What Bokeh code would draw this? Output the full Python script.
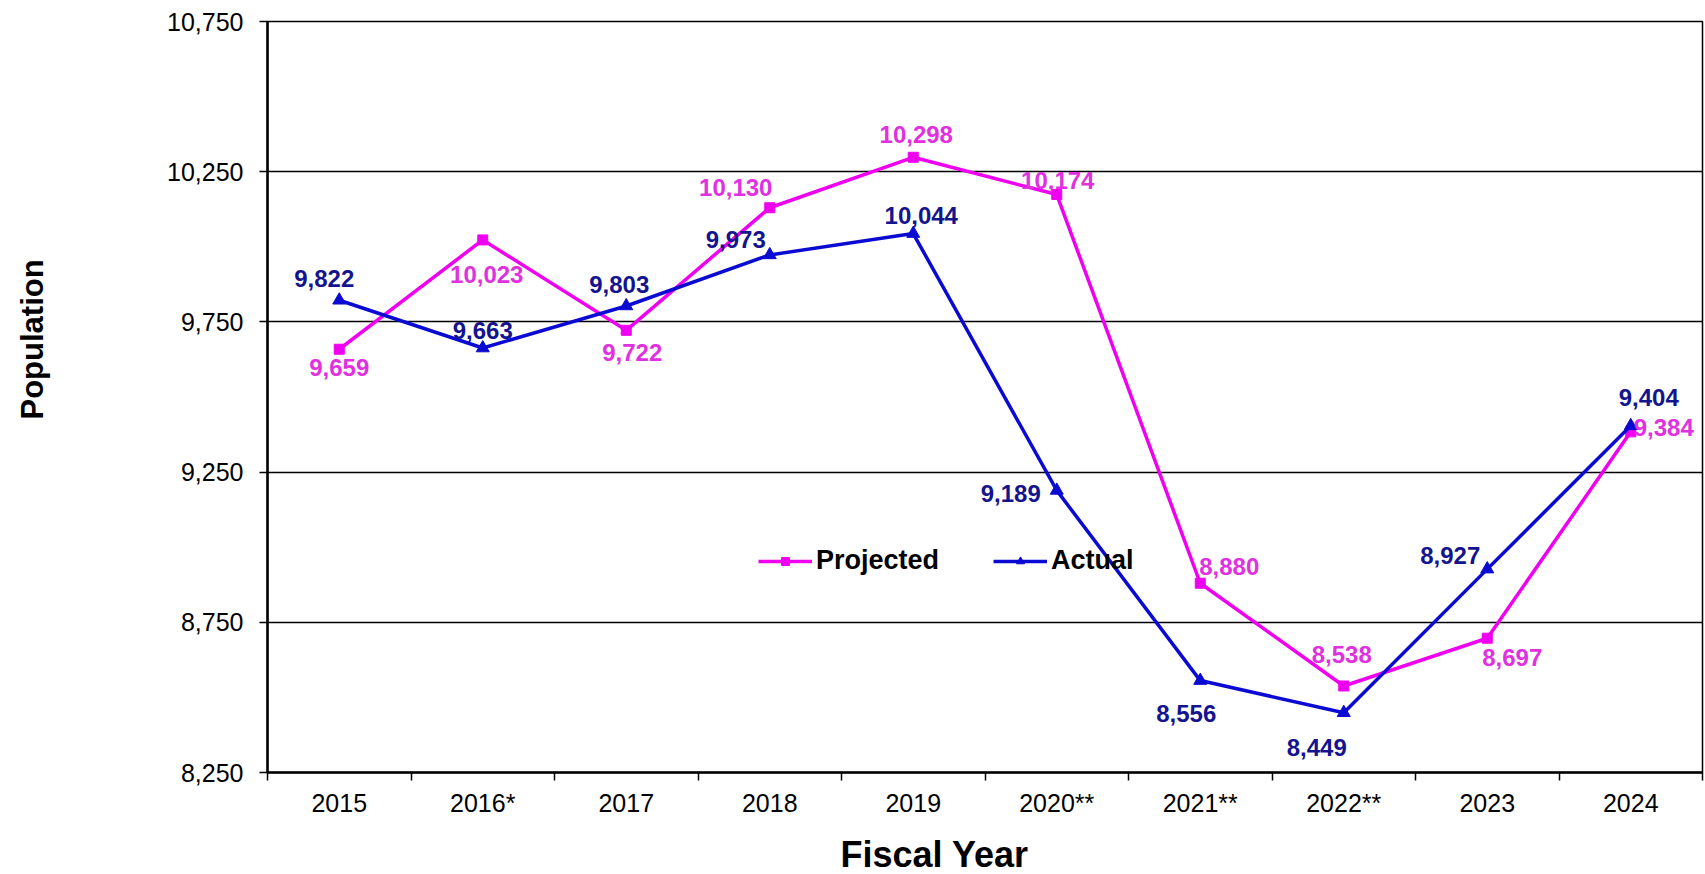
from bokeh.plotting import figure
from bokeh.models import (Range1d, FixedTicker, Title, Legend, LegendItem,
                          ColumnDataSource, NumeralTickFormatter)
from bokeh.core.properties import value
from bokeh.embed import file_html
from bokeh.resources import INLINE

# ---------------- data ----------------
years = ["2015", "2016*", "2017", "2018", "2019", "2020**", "2021**", "2022**", "2023", "2024"]
projected = [9659, 10023, 9722, 10130, 10298, 10174, 8880, 8538, 8697, 9384]
actual = [9822, 9663, 9803, 9973, 10044, 9189, 8556, 8449, 8927, 9404]
y_ticks = [8250, 8750, 9250, 9750, 10250, 10750]

# label placement (screen pixel offsets, right / down)
proj_dx = [0, 4, 6, -34, 3, 1, 29, -2, 25, 33]
proj_dy = [18, 35, 22, -20, -23, -14, -17, -31, 19, -4]
act_dx = [-15, 0, -7, -34, 8, -46, -14, -27, -37, 18]
act_dy = [-22, -18, -21, -15, -18, 3, 33, 35, -14, -28]

MAG_LINE = "#F000F0"
MAG_TEXT = "#E030E0"
BLUE_LINE = "#0A0AD2"
BLUE_TEXT = "#14148F"
FONT = "Liberation Sans"

xpos = [i + 0.5 for i in range(len(years))]

p = figure(width=1705, height=874, output_backend="svg", toolbar_location=None,
           x_range=Range1d(0, len(years)), y_range=Range1d(y_ticks[0], y_ticks[-1]),
           min_border_left=267, min_border_right=3, min_border_top=21, min_border_bottom=101)
p.background_fill_color = "white"
p.border_fill_color = "white"
p.outline_line_color = "black"
p.outline_line_width = 1.5

# axes
p.xaxis.ticker = FixedTicker(ticks=xpos, minor_ticks=list(range(len(years) + 1)))
p.xaxis.major_label_overrides = {xv: lab for xv, lab in zip(xpos, years)}
p.xaxis.major_tick_line_color = None
p.xaxis.minor_tick_line_color = "black"
p.xaxis.minor_tick_line_width = 1.5
p.xaxis.minor_tick_in = 0
p.xaxis.minor_tick_out = 8
p.xaxis.axis_line_width = 2.5
p.xaxis.axis_line_color = "black"
p.xaxis.major_label_text_font = FONT
p.xaxis.major_label_text_font_size = "25px"
p.xaxis.major_label_text_color = "black"
p.xaxis.major_label_standoff = 8
p.xaxis.axis_label = " "
p.xaxis.axis_label_text_font_size = "1px"
p.xaxis.axis_label_standoff = 8

p.yaxis.ticker = FixedTicker(ticks=y_ticks)
p.yaxis.formatter = NumeralTickFormatter(format="0,0")
p.yaxis.minor_tick_line_color = None
p.yaxis.major_tick_line_color = "black"
p.yaxis.major_tick_line_width = 1.5
p.yaxis.major_tick_in = 0
p.yaxis.major_tick_out = 8
p.yaxis.axis_line_width = 2.5
p.yaxis.axis_line_color = "black"
p.yaxis.major_label_text_font = FONT
p.yaxis.major_label_text_font_size = "25px"
p.yaxis.major_label_text_color = "black"
p.yaxis.major_label_standoff = 16
p.yaxis.axis_label = " "
p.yaxis.axis_label_text_font_size = "1px"
p.yaxis.axis_label_standoff = 110

p.xgrid.grid_line_color = None
p.ygrid.ticker = FixedTicker(ticks=y_ticks)
p.ygrid.grid_line_color = "black"
p.ygrid.grid_line_width = 1.5

# series
src_p = ColumnDataSource(dict(x=xpos, y=projected, t=[f"{v:,}" for v in projected],
                              dx=proj_dx, dy=proj_dy))
src_a = ColumnDataSource(dict(x=xpos, y=actual, t=[f"{v:,}" for v in actual],
                              dx=act_dx, dy=act_dy))

rpl = p.line("x", "y", source=src_p, line_color=MAG_LINE, line_width=3.5)
rps = p.scatter("x", "y", source=src_p, marker="square", size=10,
                fill_color=MAG_LINE, line_color=MAG_LINE)
ral = p.line("x", "y", source=src_a, line_color=BLUE_LINE, line_width=3.5)
ras = p.scatter("x", "y", source=src_a, marker="triangle", size=13,
                fill_color=BLUE_LINE, line_color=BLUE_LINE)

p.text("x", "y", text="t", source=src_p, x_offset="dx", y_offset="dy",
       text_align="center", text_baseline="middle", text_color=MAG_TEXT,
       text_font=value(FONT), text_font_style="bold", text_font_size="24px")
p.text("x", "y", text="t", source=src_a, x_offset="dx", y_offset="dy",
       text_align="center", text_baseline="middle", text_color=BLUE_TEXT,
       text_font=value(FONT), text_font_style="bold", text_font_size="24px")

legend = Legend(items=[LegendItem(label="Projected", renderers=[rpl, rps]),
                       LegendItem(label="Actual", renderers=[ral, ras])],
                location=(491, 196), orientation="horizontal",
                glyph_width=54, glyph_height=20, label_standoff=4, spacing=54,
                padding=0, margin=0, border_line_color=None, background_fill_alpha=0,
                label_text_font=FONT, label_text_font_style="bold",
                label_text_font_size="27px", label_text_color="black")
p.add_layout(legend)

p.add_layout(Title(text="Population", align="left", offset=353, standoff=0,
                   text_font=FONT, text_font_style="bold", text_font_size="31px",
                   text_color="black"), "left")
p.add_layout(Title(text="Fiscal Year", align="left", offset=573, standoff=0,
                   text_font=FONT, text_font_style="bold", text_font_size="36px",
                   text_color="black"), "below")

open("out.html", "w").write(file_html(p, INLINE))
